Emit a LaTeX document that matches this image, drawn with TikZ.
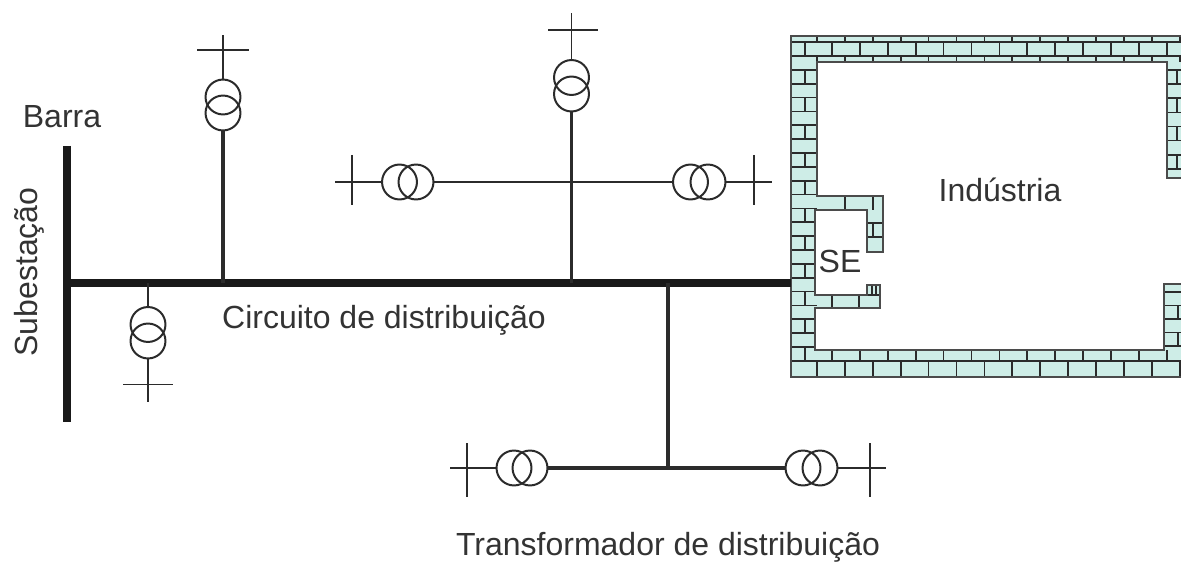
\documentclass[tikz,border=0pt]{standalone}
\usepackage{fontspec}
\setmainfont{Liberation Sans}
\definecolor{tijolo}{HTML}{CEEDE7}
\definecolor{traco}{HTML}{2B2B2B}
\tikzset{
    trafo/.style = {circle, draw = traco, line width = 1.5pt, minimum size = 26.2pt, inner sep = 0pt, outer sep = 0pt},
    fino/.style = {draw = traco, line width = 1.3pt},
    medio/.style = {draw = traco, line width = 2.4pt},
    barra/.style = {draw = black!90, line width = 5.5pt},
    junta/.style = {draw = traco, line width = 1.3pt},
    parede/.style = {draw = traco!85, line width = 1.8pt, line join = miter},
    rotulo/.style = {font = \fontsize{24}{26}\selectfont, text = black!80, inner sep = 0pt}
}
\begin{document}
\begin{tikzpicture}[x = 0.75pt, y = -0.75pt]
    \useasboundingbox (0,0) rectangle (1181,563);

    \fill[tijolo] (1181,36) -- (791,36) -- (791,377) -- (1181,377) -- (1181,284) -- (1164,284) -- (1164,350) -- (815,350) -- (815,308) -- (880,308) -- (880,285) -- (867,285) -- (867,295) -- (815,295) -- (815,210) -- (867,210) -- (867,252) -- (883,252) -- (883,196) -- (817,196) -- (817,62) -- (1167,62) -- (1167,178) -- (1181,178) -- cycle;
    \begin{scope}
        \clip (1181,36) -- (791,36) -- (791,377) -- (1181,377) -- (1181,284) -- (1164,284) -- (1164,350) -- (815,350) -- (815,308) -- (880,308) -- (880,285) -- (867,285) -- (867,295) -- (815,295) -- (815,210) -- (867,210) -- (867,252) -- (883,252) -- (883,196) -- (817,196) -- (817,62) -- (1167,62) -- (1167,178) -- (1181,178) -- cycle;
        \draw[junta] (791,42) -- (1181,42);
        \draw[junta] (791,56) -- (1181,56);
        \draw[junta] (791,361) -- (1181,361);
        \foreach \k in {0,...,13} {
            \draw[junta] ({817+27.9*\k},36) -- ({817+27.9*\k},42);
            \draw[junta] ({817+27.9*\k},56) -- ({817+27.9*\k},62);
            \draw[junta] ({832+27.9*\k},42) -- ({832+27.9*\k},56);
            \draw[junta] ({832+27.9*\k},350) -- ({832+27.9*\k},361);
            \draw[junta] ({817+27.9*\k},361) -- ({817+27.9*\k},377);
        }
        \draw[junta] (805,42) -- (805,56);
        \foreach \k in {1,...,21} {
            \draw[junta] (791,{56+13.86*\k}) -- (817,{56+13.86*\k});
        }
        \foreach \k in {0,2,...,20} {
            \draw[junta] (805,{69.9+13.86*\k}) -- (805,{83.7+13.86*\k});
        }
        \foreach \k in {1,...,8} {
            \draw[junta] (1167,{56+14.1*\k}) -- (1181,{56+14.1*\k});
        }
        \foreach \k in {0,2,4,6} {
            \draw[junta] (1177,{70.1+14.1*\k}) -- (1177,{84.2+14.1*\k});
        }
        \foreach \k in {0,...,4} {
            \draw[junta] (1164,{292+13.5*\k}) -- (1181,{292+13.5*\k});
        }
        \draw[junta] (1178,305) -- (1178,319);
        \draw[junta] (1178,332) -- (1178,346);
        \draw[junta] (845,196) -- (845,210);
        \draw[junta] (873,196) -- (873,210);
        \draw[junta] (867,223) -- (883,223);
        \draw[junta] (867,237) -- (883,237);
        \draw[junta] (873,223) -- (873,237);
        \draw[junta] (832,295) -- (832,308);
        \draw[junta] (859,295) -- (859,308);
        \draw[junta] (867,295) -- (880,295);
        \draw[junta] (872,285) -- (872,295);
        \draw[junta] (876,285) -- (876,295);
    \end{scope}
    \draw[parede] (1181,36) -- (791,36) -- (791,377) -- (1181,377);
    \draw[parede] (1181,178) -- (1167,178) -- (1167,62) -- (817,62) -- (817,196) -- (883,196) -- (883,252) -- (867,252) -- (867,210) -- (815,210) -- (815,295) -- (867,295) -- (867,285) -- (880,285) -- (880,308) -- (815,308) -- (815,350) -- (1164,350) -- (1164,284) -- (1181,284);

    \coordinate (barraN) at (67,146);
    \coordinate (barraS) at (67,422);
    \coordinate (busW) at (67,283);
    \coordinate (busE) at (791,283);
    \coordinate (ja) at (223,283);
    \coordinate (jb) at (148,283);
    \coordinate (jc) at (571.5,283);
    \coordinate (jd) at (668,283);
    \coordinate (je) at (571.5,182);
    \coordinate (jf) at (668,468);

    \draw[barra] (barraN) -- (barraS);
    \draw[barra, line width = 6pt] (busW) -- (busE);

    \node[trafo] (Ta1) at (223,97) {};
    \node[trafo] (Ta2) at (223,113) {};
    \coordinate (Pa) at (223,35);
    \coordinate (Pa1) at (197,50);
    \coordinate (Pa2) at (249,50);
    \draw[fino] (Ta1.north) -- (Pa);
    \draw[fino] (Pa1) -- (Pa2);
    \draw[medio] (Ta2.south) -- (ja);

    \node[trafo] (Tb1) at (148,324.5) {};
    \node[trafo] (Tb2) at (148,341) {};
    \coordinate (Pb) at (148,402);
    \coordinate (Pb1) at (123,384.5);
    \coordinate (Pb2) at (173,384.5);
    \draw[fino] (Tb1.north) -- (jb);
    \draw[fino] (Tb2.south) -- (Pb);
    \draw[fino] (Pb1) -- (Pb2);

    \node[trafo] (Tc1) at (571.5,77.5) {};
    \node[trafo] (Tc2) at (571.5,94) {};
    \coordinate (Pc) at (571.5,13);
    \coordinate (Pc1) at (548,30);
    \coordinate (Pc2) at (598,30);
    \draw[fino] (Tc1.north) -- (Pc);
    \draw[fino] (Pc1) -- (Pc2);
    \draw[medio] (Tc2.south) -- (jc);

    \node[trafo] (Td1) at (399.5,182) {};
    \node[trafo] (Td2) at (416,182) {};
    \coordinate (Pd) at (335,182);
    \coordinate (Pd1) at (352,155);
    \coordinate (Pd2) at (352,205);
    \draw[fino] (Td1.west) -- (Pd);
    \draw[fino] (Pd1) -- (Pd2);
    \draw[fino] (Td2.east) -- (je);

    \node[trafo] (Te1) at (690.5,182) {};
    \node[trafo] (Te2) at (708,182) {};
    \coordinate (Pe) at (772,182);
    \coordinate (Pe1) at (754,155);
    \coordinate (Pe2) at (754,205);
    \draw[fino] (Te1.west) -- (je);
    \draw[fino] (Te2.east) -- (Pe);
    \draw[fino] (Pe1) -- (Pe2);

    \draw[medio] (jd) -- (jf);

    \node[trafo] (Tf1) at (514,468) {};
    \node[trafo] (Tf2) at (530,468) {};
    \coordinate (Pf) at (450,468);
    \coordinate (Pf1) at (467,443);
    \coordinate (Pf2) at (467,497);
    \draw[fino] (Tf1.west) -- (Pf);
    \draw[fino] (Pf1) -- (Pf2);
    \draw[medio] (Tf2.east) -- (jf);

    \node[trafo] (Tg1) at (803,468) {};
    \node[trafo] (Tg2) at (820,468) {};
    \coordinate (Pg) at (886,468);
    \coordinate (Pg1) at (870,443);
    \coordinate (Pg2) at (870,497);
    \draw[medio] (Tg1.west) -- (jf);
    \draw[fino] (Tg2.east) -- (Pg);
    \draw[fino] (Pg1) -- (Pg2);

    \node[rotulo] (lbBarra) at (62,117) {Barra};
    \node[rotulo, rotate = 90] (lbSub) at (29,272) {Subestação};
    \node[rotulo] (lbCirc) at (384,320) {Circuito de distribuição};
    \node[rotulo] (lbInd) at (1000,190) {Indústria};
    \node[rotulo] (lbSE) at (840,261) {SE};
    \node[rotulo] (lbTrafo) at (668,547.5) {Transformador de distribuição};
\end{tikzpicture}
\end{document}
